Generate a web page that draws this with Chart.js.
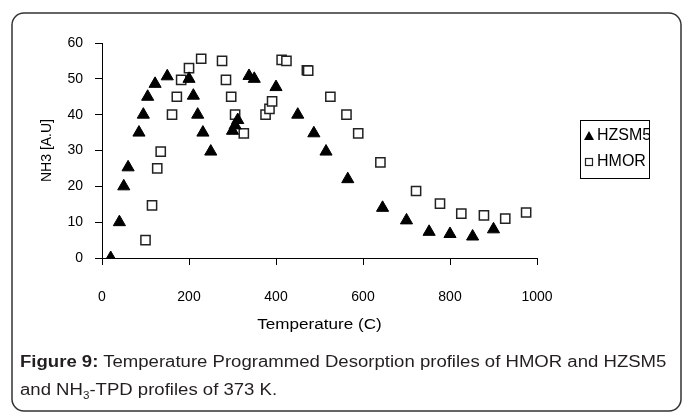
<!DOCTYPE html>
<html>
<head>
<meta charset="utf-8">
<script src="https://cdn.jsdelivr.net/npm/chart.js@4.4.1/dist/chart.umd.min.js"></script>
<style>
    html, body { margin: 0; padding: 0; background: #fff; }
    #wrap { position: relative; width: 683px; height: 414px; overflow: hidden; }
    #wrap canvas { position: absolute; left: 0; top: 0; }
    .caption {
        position: absolute; left: 20px; top: 348px; width: 580px;
        font-family: "Liberation Sans", Arial, sans-serif; font-size: 16px;
        line-height: 28px; color: #231f20; white-space: nowrap;
        transform: scaleX(1.16); transform-origin: 0 0;
    }
    .caption sub { font-size: 10px; line-height: 0; }
</style>
</head>
<body>
<div id="wrap">
    <canvas id="tpdChart" width="683" height="414"></canvas>
    <div class="caption"><b>Figure 9:</b> Temperature Programmed Desorption profiles of HMOR and HZSM5<br>and NH<sub>3</sub>-TPD profiles of 373 K.</div>
</div>
<script>
// values
const hzsm5Temp = [20, 40, 50, 60, 85, 95, 105, 122, 150, 200, 210, 220, 232, 250, 300, 306, 312, 338, 350, 400, 450, 487, 515, 565, 645, 700, 752, 800, 852, 900];
const hzsm5NH3 = [0, 10, 20, 25.3, 35, 40, 45, 48.6, 50.7, 50, 45.3, 40, 35, 29.7, 35.5, 37, 38.5, 50.8, 50, 47.7, 40, 34.8, 29.7, 22, 14, 10.5, 7.3, 6.7, 6, 8];

const hmorTemp = [100, 115, 127, 135, 161, 172, 182, 200, 228, 276, 285, 297, 306, 326, 376, 385, 391, 413, 424, 471, 474, 525, 562, 589, 640, 722, 777, 826, 878, 927, 975];
const hmorNH3 = [5, 14.7, 25, 29.7, 40, 45, 49.7, 53, 55.6, 55, 49.7, 45, 40, 34.8, 40, 41.6, 43.7, 55.3, 55, 52.4, 52.3, 45, 40, 34.8, 26.7, 18.7, 15.2, 12.4, 11.9, 11, 12.7];

const xTicks = [0, 200, 400, 600, 800, 1000];
const yTicks = [0, 10, 20, 30, 40, 50, 60];

const seriesNames = ["HZSM5", "HMOR"];
const xTitle = "Temperature (C)";
const yTitle = "NH3 [A.U]";

const FONT = '"Liberation Sans", Arial, sans-serif';

function toPoints(xs, ys) {
    return xs.map((x, i) => ({ x: x, y: ys[i] }));
}

// frame, axis titles and the boxed legend
const decorPlugin = {
    id: "decor",
    beforeDraw(chart) {
        const ctx = chart.ctx;
        ctx.save();
        ctx.fillStyle = "#fff";
        ctx.fillRect(0, 0, chart.width, chart.height);
        ctx.strokeStyle = "#333";
        ctx.lineWidth = 1.5;
        ctx.beginPath();
        ctx.roundRect(12, 13, 669, 398, 12);
        ctx.stroke();
        ctx.restore();
    },
    afterDraw(chart) {
        const ctx = chart.ctx;
        const area = chart.chartArea;
        ctx.save();
        ctx.fillStyle = "#000";
        ctx.font = "14px " + FONT;
        ctx.textAlign = "center";
        ctx.textBaseline = "middle";
        ctx.save();
        ctx.translate((area.left + area.right) / 2, 325);
        ctx.scale(1.22, 1);
        ctx.fillText(xTitle, 0, 0);
        ctx.restore();

        ctx.translate(47, (area.top + area.bottom) / 2);
        ctx.rotate(-Math.PI / 2);
        ctx.fillText(yTitle, 0, 0);
        ctx.restore();

        // legend
        const bx = 580.5, by = 120.5, bw = 69, bh = 58;
        ctx.save();
        ctx.strokeStyle = "#000";
        ctx.lineWidth = 1;
        ctx.strokeRect(bx, by, bw, bh);
        ctx.beginPath();
        ctx.rect(bx, by, bw, bh);
        ctx.clip();

        ctx.fillStyle = "#000";
        ctx.beginPath();
        ctx.moveTo(589, 131);
        ctx.lineTo(594, 140);
        ctx.lineTo(584, 140);
        ctx.closePath();
        ctx.fill();

        ctx.fillStyle = "#fff";
        ctx.strokeStyle = "#222";
        ctx.lineWidth = 1.2;
        ctx.fillRect(585.5, 158.5, 7, 7);
        ctx.strokeRect(585.5, 158.5, 7, 7);

        ctx.fillStyle = "#000";
        ctx.font = "16px " + FONT;
        ctx.textAlign = "left";
        ctx.textBaseline = "middle";
        ctx.fillText(seriesNames[0], 597, 136);
        ctx.fillText(seriesNames[1], 597, 162);
        ctx.restore();
    }
};

const chart = new Chart(document.getElementById("tpdChart"), {
    type: "scatter",
    data: {
        datasets: [{
            label: seriesNames[0],
            data: toPoints(hzsm5Temp, hzsm5NH3),
            pointStyle: "triangle",
            pointRadius: 7,
            backgroundColor: "#000",
            borderColor: "#000",
            borderWidth: 1
        }, {
            label: seriesNames[1],
            data: toPoints(hmorTemp, hmorNH3),
            pointStyle: "rect",
            pointRadius: 6.5,
            backgroundColor: "#fff",
            borderColor: "#222",
            borderWidth: 1.5
        }]
    },
    options: {
        responsive: false,
        animation: false,
        layout: { padding: { left: 0, top: 43, right: 146, bottom: 0 } },
        scales: {
            x: {
                type: "linear",
                min: 0,
                max: 1000,
                afterFit: (scale) => { scale.height = 156; },
                afterBuildTicks: (scale) => { scale.ticks = xTicks.map(v => ({ value: v })); },
                grid: { drawOnChartArea: false, tickLength: 7, color: "#000", tickColor: "#000" },
                border: { color: "#000", width: 1 },
                ticks: {
                    color: "#000", padding: 24, maxRotation: 0,
                    font: { family: FONT, size: 14 },
                    callback: (value) => String(value)
                }
            },
            y: {
                min: 0,
                max: 60,
                afterFit: (scale) => { scale.width = 102; },
                afterBuildTicks: (scale) => { scale.ticks = yTicks.map(v => ({ value: v })); },
                grid: { drawOnChartArea: false, tickLength: 7, color: "#000", tickColor: "#000" },
                border: { color: "#000", width: 1 },
                ticks: {
                    color: "#000", padding: 12,
                    font: { family: FONT, size: 14 },
                    callback: (value) => String(value)
                }
            }
        },
        plugins: {
            legend: { display: false },
            tooltip: { enabled: false }
        }
    },
    plugins: [decorPlugin]
});
</script>
</body>
</html>
